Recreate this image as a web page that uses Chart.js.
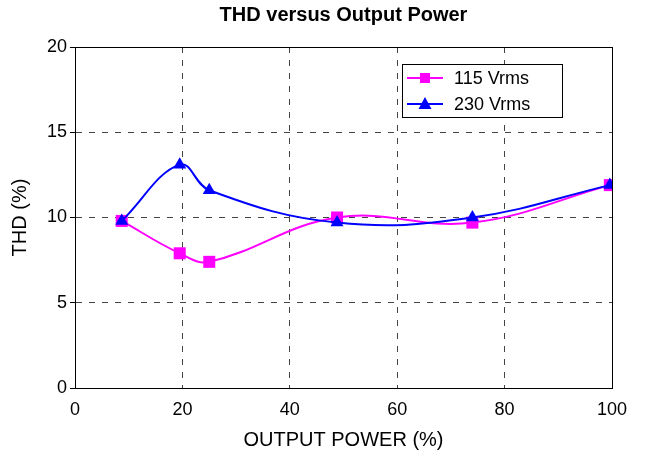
<!DOCTYPE html>
<html lang="en">
<head>
    <meta charset="UTF-8">
    <title>THD versus Output Power</title>
    <script src="https://cdn.jsdelivr.net/npm/chart.js@4.4.0/dist/chart.umd.min.js"></script>
    <style>
        body { margin: 0; background: #fff; }
    </style>
</head>
<body>
    <canvas id="graph" width="645" height="462"></canvas>
    <script>
        // values
        const power = [8.7, 19.5, 25, 48.8, 74, 99.6];
        const thd115 = [9.8, 7.9, 7.4, 10.0, 9.7, 11.9];
        const thd230 = [9.8, 13.1, 11.6, 9.7, 10.0, 11.9];
        const seriesNames = ['115 Vrms', '230 Vrms'];

        const FONT = '"Liberation Sans", Arial, Helvetica, sans-serif';

        function pts(xs, ys) {
            return xs.map((x, i) => ({x: x, y: ys[i]}));
        }

        // box round the plot + legend box inside it
        const frame = {
            id: 'frame',
            afterDraw(chart) {
                const c = chart.ctx;
                const a = chart.chartArea;
                c.save();
                c.strokeStyle = '#000';
                c.lineWidth = 1;
                c.setLineDash([]);
                c.strokeRect(Math.round(a.left) + 0.5, Math.round(a.top) + 0.5,
                    Math.round(a.right - a.left), Math.round(a.bottom - a.top));

                // legend
                const bx = 402, by = 64, bw = 160, bh = 53;
                c.fillStyle = '#fff';
                c.fillRect(bx, by, bw, bh);
                c.strokeRect(bx + 0.5, by + 0.5, bw, bh);
                c.font = '18px ' + FONT;
                c.textBaseline = 'middle';
                chart.data.datasets.forEach((ds, i) => {
                    const y = by + 14 + i * 26;
                    c.strokeStyle = ds.borderColor;
                    c.lineWidth = 2;
                    c.beginPath();
                    c.moveTo(bx + 5, y);
                    c.lineTo(bx + 41, y);
                    c.stroke();
                    c.fillStyle = ds.borderColor;
                    const cx = bx + 23;
                    if (ds.pointStyle === 'rect') {
                        c.fillRect(cx - 5, y - 5, 10, 10);
                    } else {
                        c.beginPath();
                        c.moveTo(cx, y - 7);
                        c.lineTo(cx + 6.5, y + 5);
                        c.lineTo(cx - 6.5, y + 5);
                        c.closePath();
                        c.fill();
                    }
                    c.fillStyle = '#000';
                    c.fillText(ds.label, bx + 52, y + 1);
                });
                c.restore();
            }
        };

        const ctx = document.getElementById('graph').getContext('2d');
        const myChart = new Chart(ctx, {
            type: 'line',
            data: {
                datasets: [
                    {
                        label: seriesNames[0],
                        data: pts(power, thd115),
                        borderColor: '#ff00ff',
                        backgroundColor: '#ff00ff',
                        borderWidth: 2,
                        tension: 0.4,
                        pointStyle: 'rect',
                        pointRadius: 8.5,
                        pointBorderWidth: 0,
                        fill: false,
                        order: 2
                    },
                    {
                        label: seriesNames[1],
                        data: pts(power, thd230),
                        borderColor: '#0000ff',
                        backgroundColor: '#0000ff',
                        borderWidth: 2,
                        tension: 0.4,
                        pointStyle: 'triangle',
                        pointRadius: 7.5,
                        pointBorderWidth: 0,
                        fill: false,
                        order: 1
                    }
                ]
            },
            options: {
                responsive: false,
                animation: false,
                layout: { padding: { left: 0, right: 33, top: 0, bottom: 0 } },
                plugins: {
                    legend: { display: false },
                    tooltip: { enabled: false },
                    title: {
                        display: true,
                        text: 'THD versus Output Power',
                        fullSize: false,
                        color: '#000',
                        font: { family: FONT, size: 20, weight: 'bold', lineHeight: 1.2 },
                        padding: { top: 3, bottom: 20 }
                    }
                },
                scales: {
                    x: {
                        type: 'linear',
                        min: 0,
                        max: 100,
                        afterFit: s => { s.height = 74; },
                        ticks: {
                            stepSize: 20,
                            color: '#000',
                            padding: 11,
                            font: { family: FONT, size: 18 }
                        },
                        grid: {
                            color: '#444',
                            lineWidth: 1,
                            drawTicks: false
                        },
                        border: { display: true, color: '#000', width: 1, dash: [6, 7] },
                        title: {
                            display: true,
                            text: 'OUTPUT POWER (%)',
                            color: '#000',
                            font: { family: FONT, size: 20, lineHeight: 1.2 },
                            padding: { top: 0, bottom: 10 }
                        }
                    },
                    y: {
                        min: 0,
                        max: 20,
                        afterFit: s => { s.width = 75; },
                        ticks: {
                            stepSize: 5,
                            color: '#000',
                            padding: 3,
                            font: { family: FONT, size: 18 }
                        },
                        grid: {
                            color: '#444',
                            lineWidth: 1,
                            tickLength: 5,
                            tickColor: '#000',
                            tickBorderDash: []
                        },
                        border: { display: true, color: '#000', width: 1, dash: [6, 7] },
                        title: {
                            display: true,
                            text: 'THD (%)',
                            color: '#000',
                            font: { family: FONT, size: 20, lineHeight: 1.2 },
                            padding: { top: 8, bottom: 0 }
                        }
                    }
                }
            },
            plugins: [frame]
        });
    </script>
</body>
</html>
